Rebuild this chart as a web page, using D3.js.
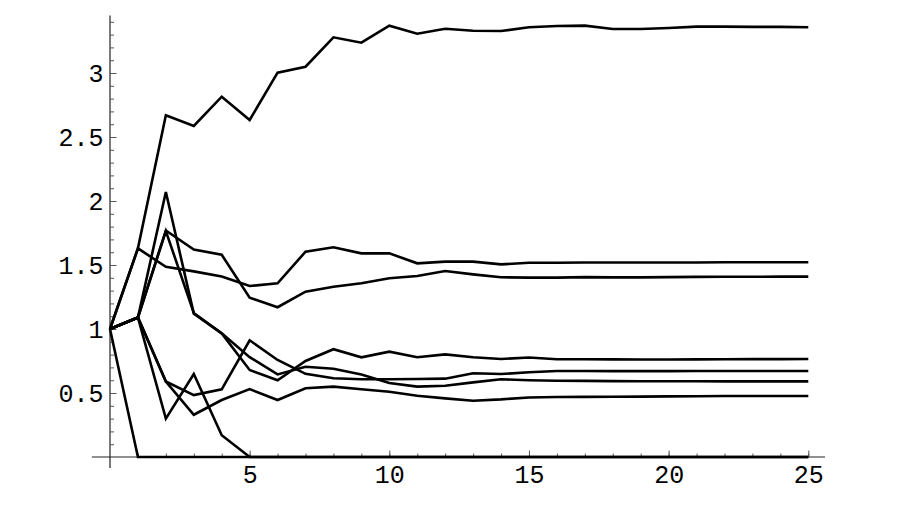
<!DOCTYPE html>
<html>
<head>
<meta charset="utf-8">
<script src="https://cdn.jsdelivr.net/npm/d3@7"></script>
<style>
  html, body { margin: 0; padding: 0; background: #fff; }
  svg { display: block; }
  .tick text { font-family: "Liberation Mono", "DejaVu Sans Mono", monospace; font-size: 25px; fill: #000; }
</style>
</head>
<body>
<svg id="chart" width="916" height="508"></svg>
<script>
// ---- data ----
const steps = d3.range(0, 26); // x = 0..25

const seriesTop = [1, 1.63, 2.67, 2.586, 2.815, 2.633, 3.003, 3.049, 3.279, 3.237, 3.37, 3.307, 3.346, 3.33, 3.328, 3.357, 3.367, 3.37, 3.344, 3.344, 3.352, 3.362, 3.362, 3.36, 3.36, 3.357];
const seriesH   = [1, 1.63, 1.486, 1.45, 1.41, 1.336, 1.357, 1.604, 1.638, 1.591, 1.591, 1.513, 1.526, 1.526, 1.505, 1.518, 1.518, 1.519, 1.519, 1.52, 1.52, 1.52, 1.521, 1.521, 1.521, 1.521];
const seriesG   = [1, 1.09, 1.77, 1.62, 1.58, 1.245, 1.17, 1.292, 1.33, 1.357, 1.396, 1.414, 1.453, 1.427, 1.404, 1.401, 1.401, 1.405, 1.403, 1.403, 1.405, 1.407, 1.408, 1.408, 1.409, 1.409];
const seriesF   = [1, 1.09, 1.765, 1.125, 0.966, 0.68, 0.60, 0.75, 0.842, 0.779, 0.823, 0.779, 0.802, 0.779, 0.766, 0.777, 0.764, 0.764, 0.763, 0.762, 0.762, 0.763, 0.764, 0.765, 0.765, 0.766];
const seriesE   = [1, 1.09, 2.07, 1.12, 0.966, 0.78, 0.645, 0.705, 0.69, 0.645, 0.578, 0.55, 0.557, 0.583, 0.607, 0.60, 0.596, 0.595, 0.593, 0.592, 0.592, 0.592, 0.591, 0.591, 0.591, 0.591];
const seriesA   = [1, 1.09, 0.59, 0.484, 0.529, 0.912, 0.758, 0.65, 0.615, 0.607, 0.607, 0.609, 0.612, 0.654, 0.648, 0.662, 0.672, 0.672, 0.671, 0.671, 0.671, 0.672, 0.672, 0.672, 0.672, 0.672];
const seriesB   = [1, 1.09, 0.59, 0.33, 0.445, 0.53, 0.445, 0.537, 0.55, 0.529, 0.51, 0.479, 0.458, 0.44, 0.45, 0.465, 0.469, 0.47, 0.471, 0.472, 0.474, 0.475, 0.476, 0.476, 0.477, 0.477];
const seriesC   = [1, 1.09, 0.30, 0.648, 0.17, 0, 0, 0, 0, 0, 0, 0, 0, 0, 0, 0, 0, 0, 0, 0, 0, 0, 0, 0, 0, 0];
const seriesD   = [1, 0, 0, 0, 0, 0, 0, 0, 0, 0, 0, 0, 0, 0, 0, 0, 0, 0, 0, 0, 0, 0, 0, 0, 0, 0];

const allSeries = [seriesTop, seriesH, seriesG, seriesF, seriesE, seriesA, seriesB, seriesC, seriesD];

const xMajorTicks = [5, 10, 15, 20, 25];
const xMinorTicks = d3.range(1, 26);
const yMajorTicks = [0.5, 1, 1.5, 2, 2.5, 3];
const yMinorTicks = d3.range(1, 35).map(d => d / 10);

// ---- layout ----
const svg = d3.select("#chart");
const x = d3.scaleLinear().domain([0, 25]).range([110, 808.3]);
const y = d3.scaleLinear().domain([0, 3.45]).range([457, 457 - 3.45 * 128]);

const axisColor = "#222";

// axis lines (extend slightly beyond plot range, Mathematica style)
svg.append("line")
  .attr("x1", x(-0.65)).attr("x2", x(25.6))
  .attr("y1", y(0)).attr("y2", y(0))
  .attr("stroke", axisColor).attr("stroke-width", 1.2);
svg.append("line")
  .attr("x1", x(0)).attr("x2", x(0))
  .attr("y1", y(-0.085)).attr("y2", y(3.45))
  .attr("stroke", axisColor).attr("stroke-width", 1.2);

// x axis minor ticks
const gxMinor = svg.append("g").attr("transform", `translate(0,${y(0)})`)
  .call(d3.axisBottom(x).tickValues(xMinorTicks).tickSizeInner(-3.5).tickSizeOuter(0).tickFormat(""));
// x axis major ticks + labels
const gx = svg.append("g").attr("transform", `translate(0,${y(0)})`)
  .call(d3.axisBottom(x).tickValues(xMajorTicks).tickSizeInner(-6.5).tickSizeOuter(0).tickPadding(8)
        .tickFormat(d3.format("d")));

// y axis minor ticks
const gyMinor = svg.append("g").attr("transform", `translate(${x(0)},0)`)
  .call(d3.axisLeft(y).tickValues(yMinorTicks).tickSizeInner(-4).tickSizeOuter(0).tickFormat(""));
// y axis major ticks + labels
const gy = svg.append("g").attr("transform", `translate(${x(0)},0)`)
  .call(d3.axisLeft(y).tickValues(yMajorTicks).tickSizeInner(-6.5).tickSizeOuter(0).tickPadding(6.5)
        .tickFormat(d => String(d)));

svg.selectAll(".domain").remove();
svg.selectAll(".tick line").attr("stroke", "#555").attr("stroke-width", 1);

// ---- series ----
const line = d3.line().x((d, i) => x(steps[i])).y(d => y(d));
svg.append("g").selectAll("path")
  .data(allSeries)
  .join("path")
  .attr("d", line)
  .attr("fill", "none")
  .attr("stroke", "#000")
  .attr("stroke-width", 2.6)
  .attr("stroke-linejoin", "miter")
  .attr("stroke-linecap", "butt");
</script>
</body>
</html>
